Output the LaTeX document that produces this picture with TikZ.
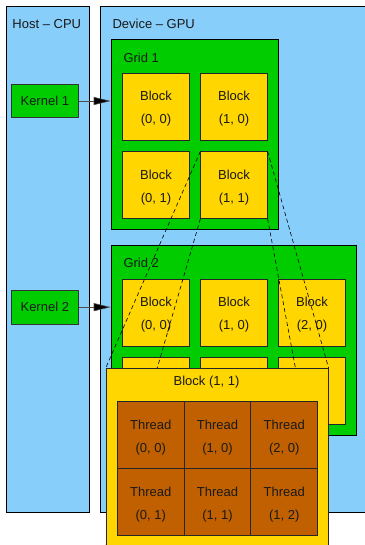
\documentclass[tikz,border=0pt]{standalone}
\usepackage{fontspec}
\setmainfont{Liberation Sans}
\usetikzlibrary{arrows.meta}
\definecolor{hostblue}{RGB}{135,206,250}
\definecolor{gridgreen}{RGB}{0,204,0}
\definecolor{blkyellow}{RGB}{255,214,0}
\definecolor{thrbrown}{RGB}{192,96,0}
\definecolor{txt}{RGB}{25,25,25}
\pgfdeclarelayer{front}
\pgfsetlayers{main,front}
\newcommand\twoline[2]{\raisebox{-2.2pt}[\height][\depth]{\parbox{64pt}{\centering #1\\#2}}}
\tikzset{
  every node/.style={font=\fontsize{13}{22.9}\selectfont, text=txt},
  panel/.style={draw=black, fill=hostblue, line width=0.6pt, inner sep=0pt},
  gridbox/.style={draw=black, fill=gridgreen, line width=0.6pt, inner sep=0pt},
  kernelbox/.style={draw=black!80, fill=gridgreen, line width=0.6pt, inner sep=0pt, minimum width=67pt, minimum height=33.4pt},
  blk/.style={draw=black!85, fill=blkyellow, line width=0.6pt, inner sep=0pt, minimum width=66.6pt, minimum height=66.7pt},
  bigblk/.style={draw=black!85, fill=blkyellow, line width=0.6pt, inner sep=0pt},
  thr/.style={draw=black!85, fill=thrbrown, line width=1.1pt, inner sep=0pt, minimum width=66.8pt, minimum height=67pt},
  lbl/.style={anchor=west, inner sep=0pt},
  callarrow/.style={draw=black!70, line width=0.6pt, -{Triangle[length=17pt,width=8pt,fill=black]}},
  zoomline/.style={draw=black, line width=0.6pt, dash pattern=on 4pt off 3pt},
}
\begin{document}
\begin{tikzpicture}[x=1pt,y=-1pt]
\useasboundingbox (0,0) rectangle (364,545);
% panels
\node[panel, minimum width=83.5pt, minimum height=506.7pt] (host) at (47.75,259.35) {};
\node[panel, minimum width=271.5pt, minimum height=506.7pt] (dev) at (236.25,259.35) {};
\node[lbl] (hostlbl) at (12.3,24.3) {Host – CPU};
\node[lbl] (devlbl) at (112.3,24.3) {Device – GPU};
% kernels
\node[kernelbox] (k1) at (44.8,101) {Kernel 1};
\node[kernelbox] (k2) at (44.8,307.15) {Kernel 2};
% grid 1
\node[gridbox, minimum width=167.7pt, minimum height=189.8pt] (g1) at (194.85,134.4) {};
\node[lbl] (g1lbl) at (123.3,57.7) {Grid 1};
\node[blk] (a00) at (156,106.65) {\twoline{Block}{(0, 0)}};
\node[blk] (a10) at (234,106.65) {\twoline{Block}{(1, 0)}};
\node[blk] (a01) at (156,185) {\twoline{Block}{(0, 1)}};
\node[blk] (a11) at (234,185) {\twoline{Block}{(1, 1)}};
% grid 2
\node[gridbox, minimum width=245.3pt, minimum height=189.3pt] (g2) at (233.65,340.35) {};
\node[lbl] (g2lbl) at (123.3,263.3) {Grid 2};
\node[blk] (c00) at (156,312.65) {\twoline{Block}{(0, 0)}};
\node[blk] (c10) at (234,312.65) {\twoline{Block}{(1, 0)}};
\node[blk] (c20) at (312,312.65) {\twoline{Block}{(2, 0)}};
\node[blk] (c01) at (156,390.65) {};
\node[blk] (c11) at (234,390.65) {};
\node[blk] (c21) at (312,390.65) {};
% arrows
\draw[callarrow] (k1) -- (g1.west |- k1);
\draw[callarrow] (k2) -- (g2.west |- k2);
% enlarged block (front layer)
\begin{pgfonlayer}{front}
\node[bigblk, minimum width=222.3pt, minimum height=177.7pt] (big) at (217.15,457.15) {};
\node[inner sep=0pt] (biglbl) at (206.5,381.7) {Block (1, 1)};
\node[thr] (t00) at (150.7,435.35) {\twoline{Thread}{(0, 0)}};
\node[thr] (t10) at (217.5,435.35) {\twoline{Thread}{(1, 0)}};
\node[thr] (t20) at (284.3,435.35) {\twoline{Thread}{(2, 0)}};
\node[thr] (t01) at (150.7,502.35) {\twoline{Thread}{(0, 1)}};
\node[thr] (t11) at (217.5,502.35) {\twoline{Thread}{(1, 1)}};
\node[thr] (t21) at (284.3,502.35) {\twoline{Thread}{(1, 2)}};
\end{pgfonlayer}
% zoom lines
\draw[zoomline] (a11.north west) -- (big.north west);
\draw[zoomline] (a11.north east) -- (big.north east);
\draw[zoomline] (a11.south west) -- (big.south west);
\draw[zoomline] (a11.south east) -- (big.south east);
\end{tikzpicture}
\end{document}
